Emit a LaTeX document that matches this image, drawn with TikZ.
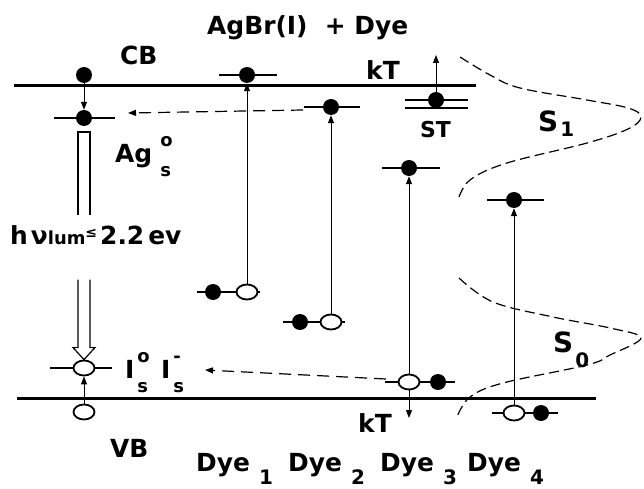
\documentclass[tikz,border=0pt]{standalone}
\usepackage{fontspec}
\setmainfont{DejaVu Sans}
\usepackage{tikz}
\usetikzlibrary{arrows.meta,calc,shapes.geometric}

\newcommand\supsub[2]{{\fontsize{18}{18}\selectfont\rlap{\raisebox{16bp}{#1}}\raisebox{-14bp}{#2}}}
\newcommand\lowsub[2][13bp]{\raisebox{-#1}{\fontsize{20}{20}\selectfont #2}}

\begin{document}
\begin{tikzpicture}[x=1bp,y=-1bp,>={Triangle[length=8bp,width=6bp]},
	lbl/.style={font=\bfseries\fontsize{25}{25}\selectfont,inner sep=0,anchor=base west},
	band/.style={line width=3bp},
	level/.style={line width=1.8bp},
	elec/.style={circle,fill,inner sep=0,minimum size=16bp},
	hole/.style={ellipse,draw,fill=white,line width=1.8bp,inner sep=0,minimum width=21bp,minimum height=15bp},
	exc/.style={->,line width=1bp},
	trans/.style={->,line width=1.2bp,dash pattern=on 12bp off 7bp},
	hollow/.style={line width=1.2bp},
	dos/.style={line width=1.2bp,dash pattern=on 10bp off 5bp}]
		
		\useasboundingbox (0,0) rectangle (644,489);
		
		% Conduction and valence band
		\draw[band] (14,86)--(476,86);
		\draw[band] (17,398)--(596,398);
		
		% Trap and dye levels
		\foreach \xa/\xb/\y in {54/115/118, 50/112/368, 219/277/75, 197/260/292,
			304/360/107, 283/345/322, 382/440/168, 385/455/382, 487/544/200,
			492/558/413, 405/468/100, 405/468/108}
		\draw[level] (\xa,\y)--(\xb,\y);
		
		% Electrons and holes
		\node[elec] (cbdot) at (84,75) {};
		\node[elec] (agdot) at (84,118) {};
		\node[hole] (ihole) at (84,368) {};
		\node[hole] (vbhole) at (84,412) {};
		\node[elec] (stdot) at (436,100) {};
		\node[elec] (dx1) at (247,75) {};
		\node[elec] (de1) at (213,292) {};
		\node[hole] (dh1) at (247,292) {};
		\node[elec] (dx2) at (331,107) {};
		\node[elec] (de2) at (300,322) {};
		\node[hole] (dh2) at (331,322) {};
		\node[elec] (dx3) at (409,168) {};
		\node[hole] (dh3) at (409,382) {};
		\node[elec] (de3) at (438,382) {};
		\node[elec] (dx4) at (514,200) {};
		\node[hole] (dh4) at (514,413) {};
		\node[elec] (de4) at (541,413) {};
		
		% Excitation and thermal steps
		\draw[exc] (cbdot)--(agdot);
		\draw[exc] (vbhole)--(ihole);
		\foreach \n in {1,2,3,4}
		\draw[exc] (dh\n)--(dx\n);
		\coordinate (sttop) at (436,55);
		\draw[exc] (stdot)--(sttop);
		\coordinate (kttip) at (409,418);
		\draw[exc] (dh3)--(kttip);
		
		% Electron and hole transfer
		\coordinate (agin) at (128,113);
		\draw[trans] ($(dx2)+(-28,3)$)--(agin);
		\coordinate (iin) at (205,370);
		\draw[trans] ($(dh3)+(-23,-3)$)--(iin);
		
		% Luminescence
		\draw[hollow] ($(agdot)+(-6,97)$)--($(agdot)+(-6,14)$)--($(agdot)+(6,14)$)--($(agdot)+(6,97)$);
		\draw[hollow] ($(ihole.north)+(-6,-80)$)--($(ihole.north)+(-6,-12)$)--($(ihole.north)+(-11,-12)$)
		--(ihole.north)--($(ihole.north)+(11,-12)$)--($(ihole.north)+(6,-12)$)--($(ihole.north)+(6,-80)$);
		
		% Dye state distributions
		\draw[dos] plot[smooth,tension=0.6] coordinates {(460,57) (490,75) (520,88) (587,100)
			(628,108) (641,117) (628,129) (587,143) (507,163) (470,180) (458,200)};
		\draw[dos] plot[smooth,tension=0.6] coordinates {(459,278) (493,302) (553,317) (610,328)
			(641,338) (610,355) (587,365) (503,383) (470,397) (457,417)};
		
		% Labels
		\node[lbl] (title) at (207,35) {AgBr(I)\ \ + Dye};
		\node[lbl] (cb) at (120,65) {CB};
		\node[lbl] (kttop) at (366,80) {kT};
		\node[lbl,font=\bfseries\fontsize{22}{22}\selectfont] (st) at (420,138) {ST};
		\node[lbl] (ag) at (115,163) {Ag\hspace{8bp}\supsub{o}{s}};
		\node[lbl] (lum) at (10,245) {h\hspace{3bp}ν{\fontsize{18}{18}\selectfont lum}\raisebox{7bp}{\fontsize{14}{14}\selectfont ≤}\hspace{3bp}2.2\hspace{4bp}ev};
		\node[lbl] (is) at (125,378) {I\hspace{3bp}\supsub{o}{s}\hspace{13bp}I\hspace{3bp}\supsub{-}{s}};
		\node[lbl] (vb) at (110,457) {VB};
		\node[lbl] (ktbot) at (358,432) {kT};
		\foreach \n/\x in {1/196,2/288,3/380,4/467}
		\node[lbl] (dye\n) at (\x,471) {Dye\hspace{9bp}\lowsub{\n}};
		\node[lbl,font=\bfseries\fontsize{28}{28}\selectfont] (sone) at (538,132) {S\hspace{2bp}\lowsub[5bp]{1}};
		\node[lbl,font=\bfseries\fontsize{28}{28}\selectfont] (szero) at (553,352) {S\hspace{2bp}\lowsub[15bp]{0}};
		
	\end{tikzpicture}
\end{document}
